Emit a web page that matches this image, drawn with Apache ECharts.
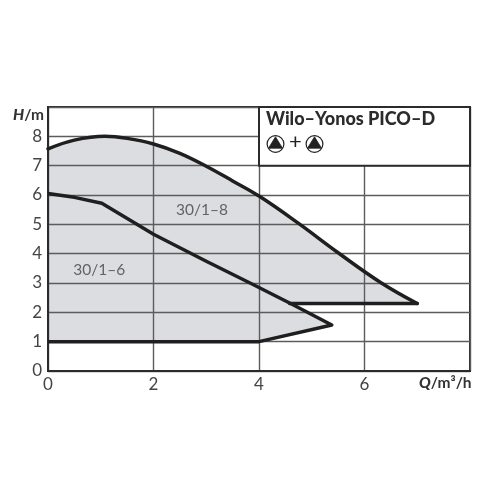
<!DOCTYPE html>
<html><head><meta charset="utf-8">
<style>html,body{margin:0;padding:0;background:#fff}#c{width:500px;height:500px}</style>
<script src="https://cdn.jsdelivr.net/npm/echarts@6/dist/echarts.min.js"></script></head>
<body><div id="c"></div>
<script>
const upperCurve=[[0,7.57],[0.5,7.87],[1.08,8],[1.5,7.93],[2,7.74],[2.5,7.42],[3,6.98],[3.5,6.48],[4.03,5.93],[4.75,5.03],[5.5,4.03],[6.32,3],[7,2.3]];
const shelf=[[7,2.3],[4.58,2.3]];
const lowerCurve=[[0,6.05],[0.5,5.92],[1.02,5.72],[2,4.66],[3,3.74],[3.83,3],[4.58,2.32],[5.38,1.57],[4,1],[0,1]];
const fillOutline=upperCurve.concat(shelf.slice(1),lowerCurve.slice(6));
const curveLabels=[[2.92,5.49,'30/1–8'],[0.97,3.44,'30/1–6']];
const titleText='Wilo–Yonos PICO–D';
const titleBox=[[4,7],[8,9]];
const stroke='#1f1f1f',grid='#5c5c5c',fill='#dcdde0',text='#444';
const font='Lato';
const chart=echarts.init(document.getElementById('c'),null,{renderer:'canvas'});
function pump(cx,cy){return [
 {type:'circle',shape:{cx,cy,r:8.4},style:{fill:'#fff',stroke:'#222',lineWidth:1.2},z:20},
 {type:'polygon',shape:{points:[[cx,cy-7.2],[cx+7,cy+4.2],[cx-7,cy+4.2]]},style:{fill:'#222',stroke:'#222',lineWidth:0.8,lineJoin:'round'},z:20}
];}
const rich={i:{fontFamily:font,fontStyle:'italic',fontWeight:900,fontSize:15.5,fill:'#333'},b:{fontFamily:font,fontWeight:700,fontSize:15.5,fill:'#333'}};
chart.setOption({
 animation:false,
 grid:{left:48,right:30,top:107,bottom:129,show:true,borderColor:'#2b2b2b',borderWidth:2,backgroundColor:'transparent'},
 xAxis:{type:'value',min:0,max:8,interval:2,
  axisLine:{show:true,onZero:false,lineStyle:{color:'#2b2b2b',width:2}},axisTick:{show:false},
  splitLine:{show:true,lineStyle:{color:grid,width:1.4}},
  axisLabel:{fontFamily:font,fontSize:17,color:text,margin:5,formatter:v=>v===8?'':String(v)}},
 yAxis:{type:'value',min:0,max:9,interval:1,
  axisLine:{show:true,lineStyle:{color:'#2b2b2b',width:2}},axisTick:{show:false},
  splitLine:{show:true,lineStyle:{color:grid,width:1.4}},
  axisLabel:{fontFamily:font,fontSize:17,color:text,margin:6,formatter:v=>v===9?'':String(v)}},
 series:[
  {type:'custom',z:-1,coordinateSystem:'cartesian2d',data:[0],silent:true,
   renderItem:(p,api)=>({type:'polygon',shape:{points:fillOutline.map(d=>api.coord(d))},style:{fill}})},
  {type:'custom',z:5,coordinateSystem:'cartesian2d',data:[0],silent:true,
   renderItem:(p,api)=>{const a=api.coord(titleBox[0]),b=api.coord(titleBox[1]);
    return {type:'rect',shape:{x:a[0],y:b[1],width:b[0]-a[0],height:a[1]-b[1]},style:{fill:'#fff',stroke:'#2b2b2b',lineWidth:2}};}},
  {type:'line',z:4,data:upperCurve,smooth:0.4,showSymbol:false,lineStyle:{color:stroke,width:3.5,cap:'round'}},
  {type:'line',z:4,data:shelf,showSymbol:false,lineStyle:{color:stroke,width:3.5,cap:'round'}},
  {type:'line',z:4,data:lowerCurve,showSymbol:false,lineStyle:{color:stroke,width:3.5,join:'round'}},
  {type:'scatter',z:6,symbolSize:0,data:curveLabels.map(d=>({value:[d[0],d[1]],name:d[2]})),
   label:{show:true,position:'inside',formatter:'{b}',fontFamily:font,fontSize:15.5,color:text}}
 ],
 graphic:[
  {type:'text',z:20,left:266,top:110,style:{text:titleText,fontFamily:font,fontWeight:900,fontSize:18,fill:'#2b2b2b'}},
  ...pump(275.5,144),...pump(314.5,144),
  {type:'text',z:20,left:289,top:131,style:{text:'+',fontFamily:font,fontSize:22,fill:'#222'}},
  {type:'text',z:20,left:13,top:107,style:{rich,text:'{i|H}{b|/m}'}},
  {type:'text',z:20,left:419,top:375,style:{rich,text:'{i|Q}{b|/m³/h}'}}
 ]
});
</script></body></html>
